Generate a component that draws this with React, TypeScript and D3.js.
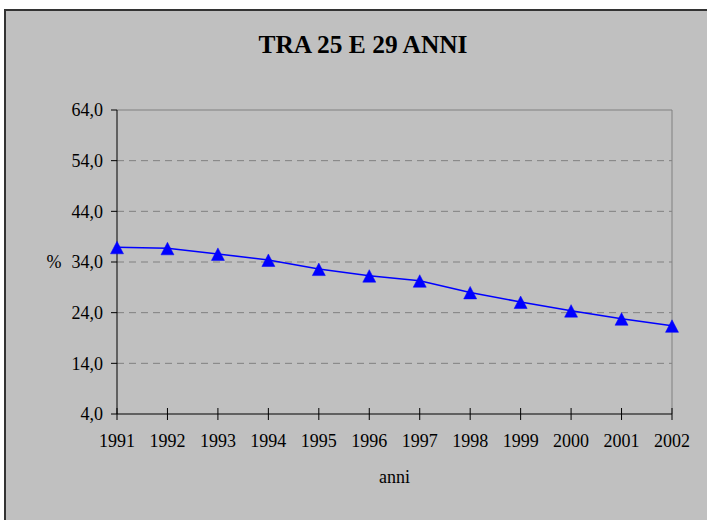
import React from "react";
import * as d3 from "d3";

const years = ["1991","1992","1993","1994","1995","1996","1997","1998","1999","2000","2001","2002"];
const values = [36.9, 36.7, 35.6, 34.4, 32.6, 31.3, 30.3, 28.0, 26.1, 24.4, 22.8, 21.4];
const yTicks = [4, 14, 24, 34, 44, 54, 64];
const title = "TRA 25 E 29 ANNI";
const xTitle = "anni";
const yTitle = "%";

export default function App() {
  const W = 707, H = 520;
  const left = 117, right = 672, top = 110, bottom = 414;
  const x = d3.scalePoint<string>().domain(years).range([left, right]);
  const y = d3.scaleLinear().domain([4, 64]).range([bottom, top]);
  const line = d3.line<number>().x((_, i) => x(years[i]) as number).y((d) => y(d));
  const font = "'Liberation Serif', 'Times New Roman', serif";
  const fmt = (v: number) => v.toFixed(1).replace(".", ",");
  const tri = "M0,-7 L6.5,5.5 L-6.5,5.5 Z";
  return (
    <svg width={W} height={H} style={{ position: "absolute", left: 0, top: 0 }} fontFamily={font}>
      <rect x={0} y={0} width={W} height={H} fill="#ffffff" />
      <rect x={5} y={10} width={W + 10} height={H + 10} fill="#c0c0c0" stroke="#333333" strokeWidth={2} />
      <text x={363} y={53} textAnchor="middle" fontSize={26} fontWeight="bold" textLength={209} lengthAdjust="spacingAndGlyphs" fill="#000">{title}</text>
      {yTicks.filter((t) => t !== 4 && t !== 64).map((t) => (
        <line key={"g" + t} x1={left} x2={right} y1={y(t)} y2={y(t)} stroke="#808080" strokeWidth={1} strokeDasharray="7,5" />
      ))}
      <line x1={left} x2={right} y1={top} y2={top} stroke="#808080" strokeWidth={1} />
      <line x1={right} x2={right} y1={top} y2={bottom} stroke="#808080" strokeWidth={1} />
      <line x1={left} x2={left} y1={top} y2={bottom} stroke="#000" strokeWidth={1} />
      <line x1={left} x2={right} y1={bottom} y2={bottom} stroke="#000" strokeWidth={1} />
      {yTicks.map((t) => (
        <g key={"y" + t}>
          <line x1={left - 6} x2={left} y1={y(t)} y2={y(t)} stroke="#000" />
          <text x={103} y={y(t)} dy="0.35em" textAnchor="end" fontSize={18} fill="#000">{fmt(t)}</text>
        </g>
      ))}
      <text x={54} y={y(34)} dy="0.35em" textAnchor="middle" fontSize={18} fill="#000">{yTitle}</text>
      {years.map((yr) => (
        <g key={"x" + yr}>
          <line x1={x(yr)} x2={x(yr)} y1={bottom - 6} y2={bottom + 6} stroke="#000" />
          <text x={x(yr)} y={447} textAnchor="middle" fontSize={18} fill="#000">{yr}</text>
        </g>
      ))}
      <text x={(left + right) / 2} y={483} textAnchor="middle" fontSize={18} fill="#000">{xTitle}</text>
      <path d={line(values) || ""} fill="none" stroke="#0000ff" strokeWidth={1.5} />
      {values.map((v, i) => (
        <path key={"m" + i} d={tri} transform={`translate(${x(years[i])},${y(v) + 1})`} fill="#0000ff" stroke="#0000ff" strokeWidth={0.5} />
      ))}
    </svg>
  );
}
